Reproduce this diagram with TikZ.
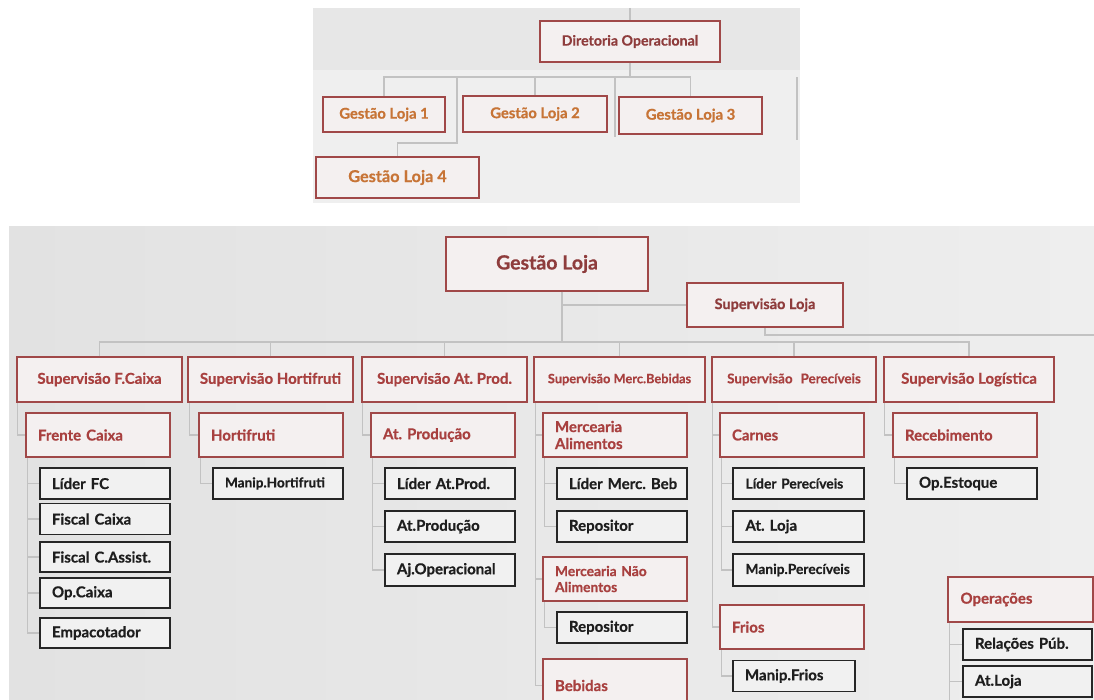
\documentclass[tikz,border=0pt]{standalone}
\usepackage{fontspec}
\setmainfont{Lato}[BoldFeatures={FakeBold=0.6}]
\usetikzlibrary{calc}

\definecolor{redline}{HTML}{A04848}
\definecolor{redtext}{HTML}{A8403F}
\definecolor{darkred}{HTML}{8E3C3C}
\definecolor{orangetext}{HTML}{C77436}
\definecolor{boxline}{HTML}{262626}
\definecolor{boxtext}{HTML}{1E1E1E}
\definecolor{redfill}{HTML}{F4F0F0}
\definecolor{greyfill}{HTML}{F1F1F1}
\definecolor{wire}{HTML}{C2C2C2}
\definecolor{topbg}{HTML}{EFEFEF}
\definecolor{topband}{HTML}{E7E7E7}
\definecolor{lowleft}{HTML}{E2E2E2}
\definecolor{lowright}{HTML}{EEEEEE}

\newcommand{\fsz}[1]{\fontsize{#1}{#1}\selectfont}
\frenchspacing

\tikzset{
  conn/.style={draw=wire, line width=1.1pt},
  redbox/.style={draw=redline, fill=redfill, line width=1.5pt, inner sep=0pt,
    font=\bfseries\fsz{15}, text=redtext},
  supbox/.style={redbox, minimum height=45pt, align=center},
  grpbox/.style={redbox, minimum width=144pt, minimum height=44pt, inner xsep=12pt,
    text width=120pt, align=left},
  blkbox/.style={draw=boxline, fill=greyfill, line width=1.7pt, inner sep=0pt,
    minimum width=130pt, minimum height=31pt, inner xsep=12pt, text width=106pt,
    align=left, font=\bfseries\fsz{15}, text=boxtext},
  topbox/.style={draw=redline, fill=redfill, line width=1.6pt, inner sep=0pt,
    font=\bfseries\fsz{14.8}, text=orangetext}
}

\begin{document}
\begin{tikzpicture}[x=1pt,y=-1pt]
\useasboundingbox (0,0) rectangle (1094,700);
\fill[white] (0,0) rectangle (1094,700);

% ---------- upper panel: operational board ----------
\fill[topbg] (313,8) rectangle (800,203);
\fill[topband] (313,8) rectangle (800,70);

\node[topbox, text=darkred, font=\bfseries\fsz{14.2}, minimum width=180pt, minimum height=41pt] (dir) at (630,41.5) {Diretoria Operacional};
\node[topbox, minimum width=122pt, minimum height=35pt] (g1) at (384,114.5) {Gestão Loja 1};
\node[topbox, minimum width=144pt, minimum height=36pt] (g2) at (535,114) {Gestão Loja 2};
\node[topbox, minimum width=143pt, minimum height=37pt] (g3) at (690.5,115.5) {Gestão Loja 3};
\node[topbox, font=\bfseries\fsz{16.3}, minimum width=163pt, minimum height=41pt] (g4) at (397.5,177.5) {Gestão Loja 4};

\coordinate (tin) at (630,8);
\coordinate (tbus) at (630,77);
\coordinate (g4k) at (457,143);
\coordinate (tmid) at (615,137);
\coordinate (tedge) at (797,140);

\draw[conn] (tin) -- (dir.north);
\draw[conn] (dir.south) -- (tbus);
\draw[conn] (g1.north) |- (tbus) -| (g3.north);
\draw[conn] (g2.north) -- (g2.north |- tbus);
\draw[conn] (g4.north) |- (g4k) -- (g4k |- tbus);
\draw[conn] (tmid) -- (tmid |- tbus);
\draw[conn] (tedge) -- (tedge |- tbus);

% ---------- lower panel: store structure ----------
\shade[left color=lowleft, right color=lowright] (9,227) rectangle (1094,700);

\node[supbox, text=darkred, font=\bfseries\fsz{19.5}, minimum width=202pt, minimum height=54pt] (gl) at (547,264) {Gestão Loja};
\node[supbox, text=darkred, font=\bfseries\fsz{14.5}, minimum width=156pt, minimum height=44pt] (sl) at (765,305) {Supervisão Loja};

\node[supbox, minimum width=165pt] (sfc) at (99.5,379.5) {Supervisão F.Caixa};
\node[supbox, minimum width=165pt] (shf) at (270.5,379.5) {Supervisão Hortifruti};
\node[supbox, minimum width=165pt] (sap) at (444.5,379.5) {Supervisão At. Prod.};
\node[supbox, minimum width=171pt, font=\bfseries\fsz{12.8}] (smb) at (619.5,379.5) {Supervisão Merc.Bebidas};
\node[supbox, minimum width=164pt, font=\bfseries\fsz{13.4}] (spe) at (794,379.5) {Supervisão\hspace{0.35em} Perecíveis};
\node[supbox, minimum width=170pt] (slg) at (969,379.5) {Supervisão Logística};

\node[grpbox] (fc) at (98,435) {Frente Caixa};
\node[grpbox] (hf) at (271,435) {Hortifruti};
\node[grpbox] (ap) at (443,435) {At. Produção};
\node[grpbox, font=\bfseries\fontsize{15}{17}\selectfont] (ma) at (615,435) {Mercearia\\Alimentos};
\node[grpbox] (ca) at (792,435) {Carnes};
\node[grpbox] (rc) at (965,435) {Recebimento};
\node[grpbox, font=\bfseries\fontsize{13.8}{16}\selectfont] (mna) at (615,579) {Mercearia Não\\Alimentos};
\node[grpbox, minimum height=53pt] (beb) at (615,685.5) {Bebidas};
\node[grpbox] (fr) at (792,627) {Frios};
\node[grpbox, minimum width=145pt, minimum height=45pt] (ops) at (1020.5,599.5) {Operações};

% front checkout staff
\node[blkbox] (lfc) at (105,483.5) {Líder FC};
\node[blkbox] (fca) at (105,519) {Fiscal Caixa};
\node[blkbox, minimum height=30pt] (fcs) at (105,557) {Fiscal C.Assist.};
\node[blkbox, minimum height=30pt] (opc) at (105,593) {Op.Caixa};
\node[blkbox, minimum height=30pt] (emp) at (105,633) {Empacotador};
% produce
\node[blkbox, font=\bfseries\fsz{13.6}] (mhf) at (278,483.5) {Manip.Hortifruti};
% production
\node[blkbox] (lap) at (450,483.5) {Líder At.Prod.};
\node[blkbox] (atp) at (450,526.5) {At.Produção};
\node[blkbox, minimum height=32pt] (ajo) at (450,570) {Aj.Operacional};
% grocery and drinks
\node[blkbox] (lmb) at (622,483.5) {\mbox{Líder Merc. Beb}};
\node[blkbox] (rp1) at (622,526.5) {Repositor};
\node[blkbox] (rp2) at (622,627.5) {Repositor};
% perishables
\node[blkbox, minimum width=131pt, font=\bfseries\fsz{13.8}] (lpe) at (798.5,483.5) {\mbox{Líder Perecíveis}};
\node[blkbox, minimum width=131pt] (alj) at (798.5,526.5) {At. Loja};
\node[blkbox, minimum width=131pt, minimum height=32pt, font=\bfseries\fsz{13.8}] (mpe) at (798.5,570) {Manip.Perecíveis};
\node[blkbox, minimum width=122pt, text width=98pt] (mfr) at (794,676) {Manip.Frios};
% logistics
\node[blkbox] (ope) at (972,483.5) {Op.Estoque};
% operations
\node[blkbox, minimum width=129pt, text width=105pt] (rpb) at (1027.5,644.5) {\mbox{Relações Púb.}};
\node[blkbox, minimum width=129pt, text width=105pt] (atl) at (1027.5,681.5) {At.Loja};

% connectors
\coordinate (bus) at (562,342);
\coordinate (redge) at (1094,335);
\coordinate (pbottom) at (0,700);

\draw[conn] ([xshift=15pt]gl.south) -- ([xshift=15pt]gl.south |- bus);
\draw[conn] ([xshift=15pt]gl.south |- sl.west) -- (sl.west);
\draw[conn] (sl.south) |- (redge);
\draw[conn] (sfc.north) |- (bus) -| (slg.north);
\foreach \s in {shf,sap,smb,spe}
  \draw[conn] (\s.north) -- (\s.north |- bus);

\draw[conn] ([xshift=1pt]sfc.south west) |- (fc.west);
\draw[conn] ([xshift=2pt]shf.south west) |- (hf.west);
\draw[conn] ([xshift=1pt]sap.south west) |- (ap.west);
\draw[conn] ([xshift=2pt]smb.south west) |- (ma.west);
\draw[conn] ([xshift=2pt]smb.south west) |- (mna.west);
\draw[conn] ([xshift=2pt]smb.south west) |- (beb.west);
\draw[conn] ([xshift=1pt]spe.south west) |- (ca.west);
\draw[conn] ([xshift=1pt]spe.south west) |- (fr.west);
\draw[conn] ([xshift=1pt]slg.south west) |- (rc.west);

\foreach \b in {lfc,fca,fcs,opc,emp}
  \draw[conn] ([xshift=2pt]fc.south west) |- (\b.west);
\draw[conn] ([xshift=2pt]hf.south west) |- (mhf.west);
\foreach \b in {lap,atp,ajo}
  \draw[conn] ([xshift=2pt]ap.south west) |- (\b.west);
\foreach \b in {lmb,rp1}
  \draw[conn] ([xshift=2pt]ma.south west) |- (\b.west);
\draw[conn] ([xshift=2pt]mna.south west) |- (rp2.west);
\foreach \b in {lpe,alj,mpe}
  \draw[conn] ([xshift=2pt]ca.south west) |- (\b.west);
\draw[conn] ([xshift=2pt]fr.south west) |- (mfr.west);
\draw[conn] ([xshift=2pt]rc.south west) |- (ope.west);
\foreach \b in {rpb,atl}
  \draw[conn] ([xshift=2pt]ops.south west) |- (\b.west);
\draw[conn] ([xshift=2pt]atl.west -| ops.south west) -- ([xshift=2pt]ops.south west |- pbottom);

\end{tikzpicture}
\end{document}
